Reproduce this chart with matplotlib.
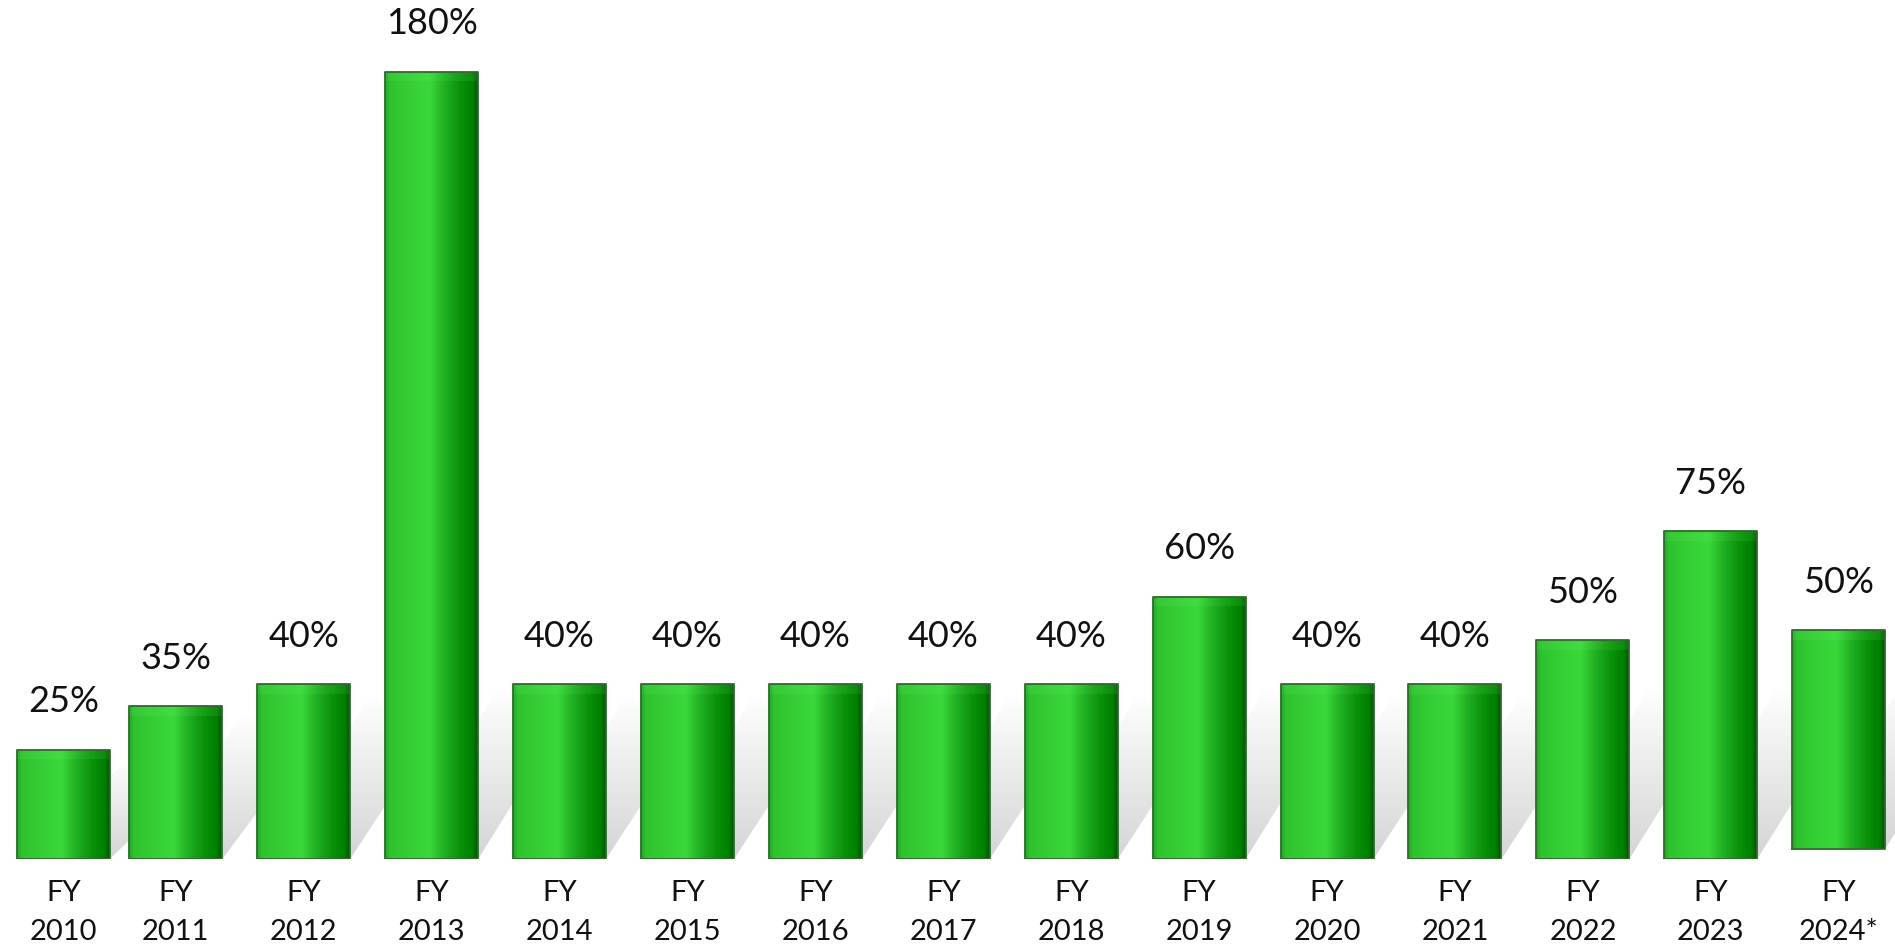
import numpy as np
import matplotlib
matplotlib.use("Agg")
import matplotlib.pyplot as plt
from matplotlib.colors import LinearSegmentedColormap
from matplotlib.patches import Polygon

# ---- data ----
fy_line = ["FY"] * 15
years = ["2010", "2011", "2012", "2013", "2014", "2015", "2016", "2017",
         "2018", "2019", "2020", "2021", "2022", "2023", "2024*"]
values = [25, 35, 40, 180, 40, 40, 40, 40, 40, 60, 40, 40, 50, 75, 50]
value_labels = ["25%", "35%", "40%", "180%", "40%", "40%", "40%", "40%",
                "40%", "60%", "40%", "40%", "50%", "75%", "50%"]

W, H = 1895, 946
fig = plt.figure(figsize=(W / 100, H / 100), dpi=100)
ax = fig.add_axes([0, 87 / H, 1, 1 - 87 / H])
XL = (-0.3745, 14.44)
YL = (0, 859 / 4.375)
ax.set_xlim(*XL)
ax.set_ylim(*YL)
ax.axis("off")

n = len(values)
x = np.arange(n, dtype=float)
x[0] += 0.12
width = 0.727
bottoms = np.zeros(n)
bottoms[-1] = 2.3

font = "Lato"

# soft diagonal shadows behind bars (fading upward)
fade = np.zeros((64, 1, 4))
fade[..., :3] = 0.45
fade[:, 0, 3] = np.linspace(0.0, 0.30, 64)[:, None][:, 0]  # row0 = top
for xi, v, b in zip(x, values, bottoms):
    hs = min(v, 42) * 0.95
    dx = 0.85
    pts = [(xi - width / 2 + 0.05, b), (xi + width / 2, b),
           (xi + width / 2 + dx, b + hs), (xi - width / 2 + dx + 0.05, b + hs)]
    poly = Polygon(pts, closed=True, facecolor="none", edgecolor="none")
    ax.add_patch(poly)
    im = ax.imshow(fade, aspect="auto", interpolation="bilinear",
                   extent=[xi - width / 2, xi + width / 2 + dx + 0.1, b, b + hs],
                   zorder=1)
    im.set_clip_path(poly)

bars = ax.bar(x, values, width=width, bottom=bottoms, color="#33cc33",
              edgecolor="none", linewidth=0, zorder=3)

cmap = LinearSegmentedColormap.from_list(
    "cyl",
    [(0.0, "#23a523"), (0.05, "#2ec22e"), (0.30, "#36d036"),
     (0.48, "#3ad83a"), (0.64, "#21b021"), (0.80, "#0a940a"),
     (0.94, "#008000"), (1.0, "#005800")])
grad = np.linspace(0, 1, 256).reshape(1, -1)
for rect in bars:
    x0, y0 = rect.get_x(), rect.get_y()
    w, h = rect.get_width(), rect.get_height()
    im = ax.imshow(grad, cmap=cmap, aspect="auto",
                   extent=[x0, x0 + w, y0, y0 + h], zorder=4,
                   interpolation="bicubic")
    im.set_clip_path(rect)
    # subtle lighter top band
    ax.fill_between([x0, x0 + w], y0 + h - 2.2, y0 + h, color="#8fff8f",
                    alpha=0.10, zorder=5, linewidth=0)
ax.set_xlim(*XL)
ax.set_ylim(*YL)
for rect in bars:
    x0, y0 = rect.get_x(), rect.get_y()
    w, h = rect.get_width(), rect.get_height()
    ax.plot([x0, x0, x0 + w, x0 + w, x0], [y0, y0 + h, y0 + h, y0, y0],
            color="#2f6a2f", linewidth=1.3, zorder=6)

for xi, v, b, lab in zip(x, values, bottoms, value_labels):
    ax.text(xi, b + v + 8.5, lab, ha="center", va="baseline",
            fontsize=26, family=font, color="#111111", zorder=7)

for xi, f, yr in zip(x, fy_line, years):
    ax.text(xi, -7.8, f, ha="center", va="center", fontsize=21,
            family=font, color="#111111", clip_on=False)
    ax.text(xi, -16.6, yr, ha="center", va="center", fontsize=21,
            family=font, color="#111111", clip_on=False)

fig.savefig("out.png", dpi=100, facecolor="white")
